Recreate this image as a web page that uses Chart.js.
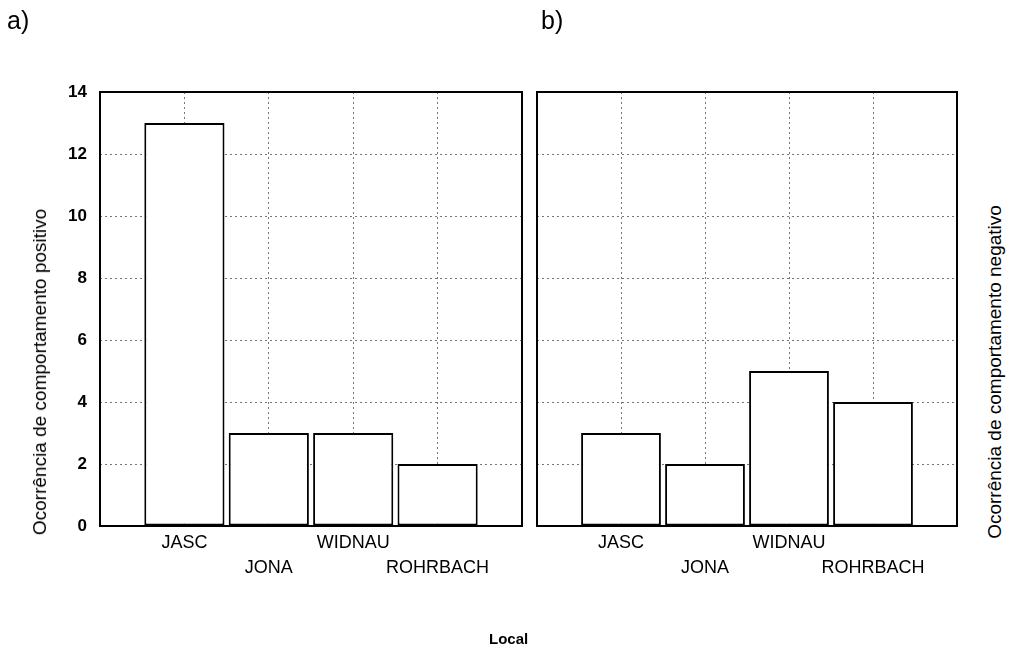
<!DOCTYPE html>
<html>
<head>
<meta charset="utf-8">
<script src="https://cdn.jsdelivr.net/npm/chart.js@4.4.0/dist/chart.umd.min.js"></script>
<style>
  body { margin: 0; background: #fff; font-family: 'Liberation Sans', Arial, sans-serif; }
  #wrap { position: relative; width: 1010px; height: 654px; overflow: hidden; }
  .panel { position: absolute; top: 0; height: 654px; }
  .lbl { position: absolute; color: #000; white-space: nowrap; }
  .ytitle { position: absolute; top: 372px; font-size: 19px; color: #000; white-space: nowrap;
            transform: translate(-50%, -50%) rotate(-90deg); }
</style>
</head>
<body>
<div id="wrap">
  <div class="panel" style="left:0;width:530px"><canvas id="chartA"></canvas></div>
  <div class="panel" style="left:530px;width:440px"><canvas id="chartB"></canvas></div>
  <div class="lbl" style="left:7px;top:6px;font-size:25px">a)</div>
  <div class="lbl" style="left:541px;top:6px;font-size:25px">b)</div>
  <div class="ytitle" style="left:40px">Ocorrência de comportamento positivo</div>
  <div class="ytitle" style="left:995px">Ocorrência de comportamento negativo</div>
  <div class="lbl" style="left:489px;top:630px;font-size:15px;font-weight:bold">Local</div>
</div>
<script>
// ── Data ─────────────────────────────────────────────────────────────────────
const categories = ['JASC', 'JONA', 'WIDNAU', 'ROHRBACH'];
const positivo   = [13, 3, 3, 2];
const negativo   = [3, 2, 5, 4];
const yTicks     = [0, 2, 4, 6, 8, 10, 12, 14];

// padded with an empty slot each side so the bars sit one full step from the frame;
// every second label goes on a second line
const labels = ['', ...categories.map((c, i) => i % 2 ? ['', c] : c), ''];
const pad = arr => [null, ...arr, null];

// ── Frame around the plot area ───────────────────────────────────────────────
const frame = {
  id: 'frame',
  afterDatasetsDraw(chart) {
    const { ctx, chartArea: a } = chart;
    ctx.save();
    ctx.strokeStyle = '#000';
    ctx.lineWidth = 2;
    ctx.strokeRect(a.left, a.top, a.right - a.left, a.bottom - a.top);
    ctx.restore();
  },
};

const font = "'Liberation Sans', Arial, sans-serif";

function makeChart(id, values, opts) {
  return new Chart(document.getElementById(id), {
    type: 'bar',
    data: {
      labels,
      datasets: [{
        data: pad(values),
        backgroundColor: '#fff',
        borderColor: '#000',
        borderWidth: 2,
        borderSkipped: false,
        categoryPercentage: 1,
        barPercentage: 0.95,
      }],
    },
    options: {
      responsive: true,
      maintainAspectRatio: false,
      animation: false,
      layout: { padding: { top: 92, right: opts.right, left: 0, bottom: 0 } },
      plugins: { legend: { display: false }, tooltip: { enabled: false } },
      scales: {
        x: {
          offset: false,
          grid: { color: '#777', offset: false, drawTicks: false },
          border: { display: false, dash: [2, 3] },
          ticks: {
            color: '#000', padding: 5, maxRotation: 0, autoSkip: false,
            font: { family: font, size: 18, lineHeight: '25px' },
          },
          afterFit: s => { s.height = 128; },
        },
        y: {
          min: 0, max: 14,
          afterBuildTicks: s => { s.ticks = yTicks.map(v => ({ value: v })); },
          grid: { color: '#777', drawTicks: false },
          border: { display: false, dash: [2, 3] },
          ticks: {
            display: opts.yLabels, color: '#000', padding: 13,
            font: { family: font, size: 17, weight: 'bold' },
          },
          afterFit: s => { s.width = opts.left; },
        },
      },
    },
    plugins: [frame],
  });
}

makeChart('chartA', positivo, { left: 100, right: 8, yLabels: true });
makeChart('chartB', negativo, { left: 7, right: 13, yLabels: false });
</script>
</body>
</html>
